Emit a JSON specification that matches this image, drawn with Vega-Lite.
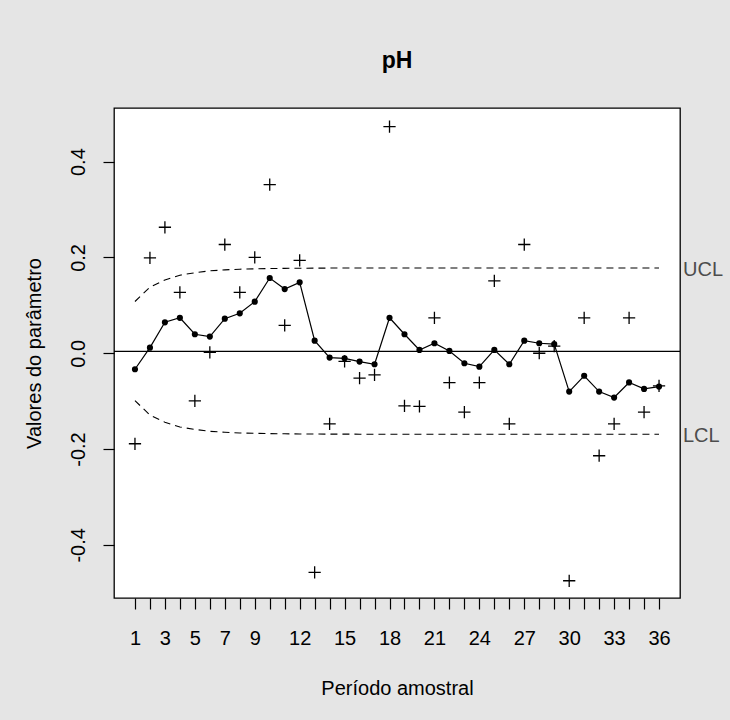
{
  "$schema": "https://vega.github.io/schema/vega-lite/v6.json",
  "width": 566,
  "height": 490,
  "autosize": {"type": "none"},
  "padding": {"left": 114, "top": 108, "right": 50, "bottom": 122},
  "background": "#E5E5E5",
  "config": {
    "view": {"fill": "white", "stroke": "black", "strokeWidth": 1.3},
    "axis": {
      "labelFont": "Liberation Sans",
      "labelFontSize": 20,
      "labelColor": "black",
      "titleFont": "Liberation Sans",
      "titleFontSize": 20,
      "titleFontWeight": "normal",
      "titleColor": "black",
      "tickColor": "black",
      "tickWidth": 1.2,
      "tickSize": 11,
      "domain": false,
      "grid": false
    }
  },
  "title": {
    "text": "pH",
    "font": "Liberation Sans",
    "fontSize": 23,
    "fontWeight": "bold",
    "color": "black",
    "anchor": "middle",
    "frame": "group",
    "baseline": "alphabetic",
    "offset": 17
  },
  "datasets": {
    "pts": [
      {"i": 1, "stat": -0.189, "ewma": -0.0334, "ucl": 0.108, "lcl": -0.099},
      {"i": 2, "stat": 0.199, "ewma": 0.0117, "ucl": 0.138, "lcl": -0.129},
      {"i": 3, "stat": 0.263, "ewma": 0.0646, "ucl": 0.153, "lcl": -0.144},
      {"i": 4, "stat": 0.127, "ewma": 0.074, "ucl": 0.163, "lcl": -0.154},
      {"i": 5, "stat": -0.0995, "ewma": 0.0396, "ucl": 0.168, "lcl": -0.159},
      {"i": 6, "stat": 0.002, "ewma": 0.0347, "ucl": 0.172, "lcl": -0.163},
      {"i": 7, "stat": 0.227, "ewma": 0.0722, "ucl": 0.174, "lcl": -0.165},
      {"i": 8, "stat": 0.127, "ewma": 0.0834, "ucl": 0.1755, "lcl": -0.1665},
      {"i": 9, "stat": 0.2, "ewma": 0.1077, "ucl": 0.1762, "lcl": -0.1672},
      {"i": 10, "stat": 0.352, "ewma": 0.157, "ucl": 0.1768, "lcl": -0.1678},
      {"i": 11, "stat": 0.058, "ewma": 0.134, "ucl": 0.1772, "lcl": -0.1682},
      {"i": 12, "stat": 0.194, "ewma": 0.148, "ucl": 0.1775, "lcl": -0.1685},
      {"i": 13, "stat": -0.4575, "ewma": 0.0263, "ucl": 0.1777, "lcl": -0.1687},
      {"i": 14, "stat": -0.1475, "ewma": -0.0091, "ucl": 0.1778, "lcl": -0.1688},
      {"i": 15, "stat": -0.017, "ewma": -0.0107, "ucl": 0.1779, "lcl": -0.1689},
      {"i": 16, "stat": -0.052, "ewma": -0.0175, "ucl": 0.178, "lcl": -0.169},
      {"i": 17, "stat": -0.045, "ewma": -0.023, "ucl": 0.178, "lcl": -0.169},
      {"i": 18, "stat": 0.473, "ewma": 0.074, "ucl": 0.178, "lcl": -0.169},
      {"i": 19, "stat": -0.11, "ewma": 0.0396, "ucl": 0.178, "lcl": -0.169},
      {"i": 20, "stat": -0.111, "ewma": 0.0069, "ucl": 0.178, "lcl": -0.169},
      {"i": 21, "stat": 0.074, "ewma": 0.0208, "ucl": 0.178, "lcl": -0.169},
      {"i": 22, "stat": -0.0615, "ewma": 0.0048, "ucl": 0.178, "lcl": -0.169},
      {"i": 23, "stat": -0.123, "ewma": -0.0209, "ucl": 0.178, "lcl": -0.169},
      {"i": 24, "stat": -0.0615, "ewma": -0.028, "ucl": 0.178, "lcl": -0.169},
      {"i": 25, "stat": 0.151, "ewma": 0.0069, "ucl": 0.178, "lcl": -0.169},
      {"i": 26, "stat": -0.1475, "ewma": -0.023, "ucl": 0.178, "lcl": -0.169},
      {"i": 27, "stat": 0.227, "ewma": 0.0263, "ucl": 0.178, "lcl": -0.169},
      {"i": 28, "stat": 0.0, "ewma": 0.0208, "ucl": 0.178, "lcl": -0.169},
      {"i": 29, "stat": 0.015, "ewma": 0.019, "ucl": 0.178, "lcl": -0.169},
      {"i": 30, "stat": -0.475, "ewma": -0.08, "ucl": 0.178, "lcl": -0.169},
      {"i": 31, "stat": 0.074, "ewma": -0.047, "ucl": 0.178, "lcl": -0.169},
      {"i": 32, "stat": -0.214, "ewma": -0.08, "ucl": 0.178, "lcl": -0.169},
      {"i": 33, "stat": -0.1475, "ewma": -0.0925, "ucl": 0.178, "lcl": -0.169},
      {"i": 34, "stat": 0.074, "ewma": -0.061, "ucl": 0.178, "lcl": -0.169},
      {"i": 35, "stat": -0.123, "ewma": -0.0745, "ucl": 0.178, "lcl": -0.169},
      {"i": 36, "stat": -0.068, "ewma": -0.0696, "ucl": 0.178, "lcl": -0.169}
    ],
    "center": [{"center": 0.004}],
    "limits": [{"lab": "UCL", "v": 0.178}, {"lab": "LCL", "v": -0.169}]
  },
  "layer": [
    {
      "data": {"name": "pts"},
      "mark": {"type": "line", "color": "black", "strokeWidth": 1.1, "strokeDash": [7, 5]},
      "encoding": {
        "x": {
          "field": "i",
          "type": "quantitative",
          "scale": {"domain": [-0.4, 37.4], "nice": false, "zero": false},
          "axis": {
            "title": "Período amostral",
            "values": [1,2,3,4,5,6,7,8,9,10,11,12,13,14,15,16,17,18,19,20,21,22,23,24,25,26,27,28,29,30,31,32,33,34,35,36],
            "tickCount": 100,
            "labelExpr": "(datum.value <= 9 ? datum.value % 2 == 1 : datum.value % 3 == 0) ? '' + round(datum.value) : ''",
            "labelPadding": 19,
            "labelFlush": false,
            "labelOverlap": false,
            "titleBaseline": "alphabetic",
            "titleY": 96,
            "titleX": 283
          }
        },
        "y": {
          "field": "ucl",
          "type": "quantitative",
          "scale": {"domain": [-0.511, 0.512], "nice": false, "zero": false},
          "axis": {
            "title": "Valores do parâmetro",
            "values": [-0.4, -0.2, 0, 0.2, 0.4],
            "labelExpr": "replace(format(datum.value, '.1f'), '−', '-')",
            "labelAngle": -90,
            "labelAlign": "center",
            "labelBaseline": "alphabetic",
            "labelPadding": 19,
            "titleBaseline": "alphabetic",
            "titleAngle": -90,
            "titleX": -74,
            "titleY": 245
          }
        }
      }
    },
    {
      "data": {"name": "center"},
      "mark": {"type": "rule", "color": "black", "strokeWidth": 1.3},
      "encoding": {
        "y": {"field": "center", "type": "quantitative"}
      }
    },
    {
      "data": {"name": "pts"},
      "mark": {"type": "line", "color": "black", "strokeWidth": 1.1, "strokeDash": [7, 5]},
      "encoding": {
        "x": {"field": "i", "type": "quantitative"},
        "y": {"field": "lcl", "type": "quantitative"}
      }
    },
    {
      "data": {"name": "pts"},
      "mark": {"type": "line", "color": "black", "strokeWidth": 1.2},
      "encoding": {
        "x": {"field": "i", "type": "quantitative"},
        "y": {"field": "ewma", "type": "quantitative"}
      }
    },
    {
      "data": {"name": "pts"},
      "mark": {"type": "point", "filled": true, "color": "black", "size": 38, "opacity": 1},
      "encoding": {
        "x": {"field": "i", "type": "quantitative"},
        "y": {"field": "ewma", "type": "quantitative"}
      }
    },
    {
      "data": {"name": "pts"},
      "mark": {"type": "point", "shape": "M-1,0H1M0,-1V1", "filled": false, "stroke": "black", "strokeWidth": 1.3, "size": 150, "opacity": 1},
      "encoding": {
        "x": {"field": "i", "type": "quantitative"},
        "y": {"field": "stat", "type": "quantitative"}
      }
    },
    {
      "data": {"name": "limits"},
      "mark": {"type": "text", "align": "left", "baseline": "middle", "dx": 3, "dy": 2, "font": "Liberation Sans", "fontSize": 20, "color": "#4D4D4D"},
      "encoding": {
        "x": {"value": "width"},
        "y": {"field": "v", "type": "quantitative"},
        "text": {"field": "lab"}
      }
    }
  ]
}
